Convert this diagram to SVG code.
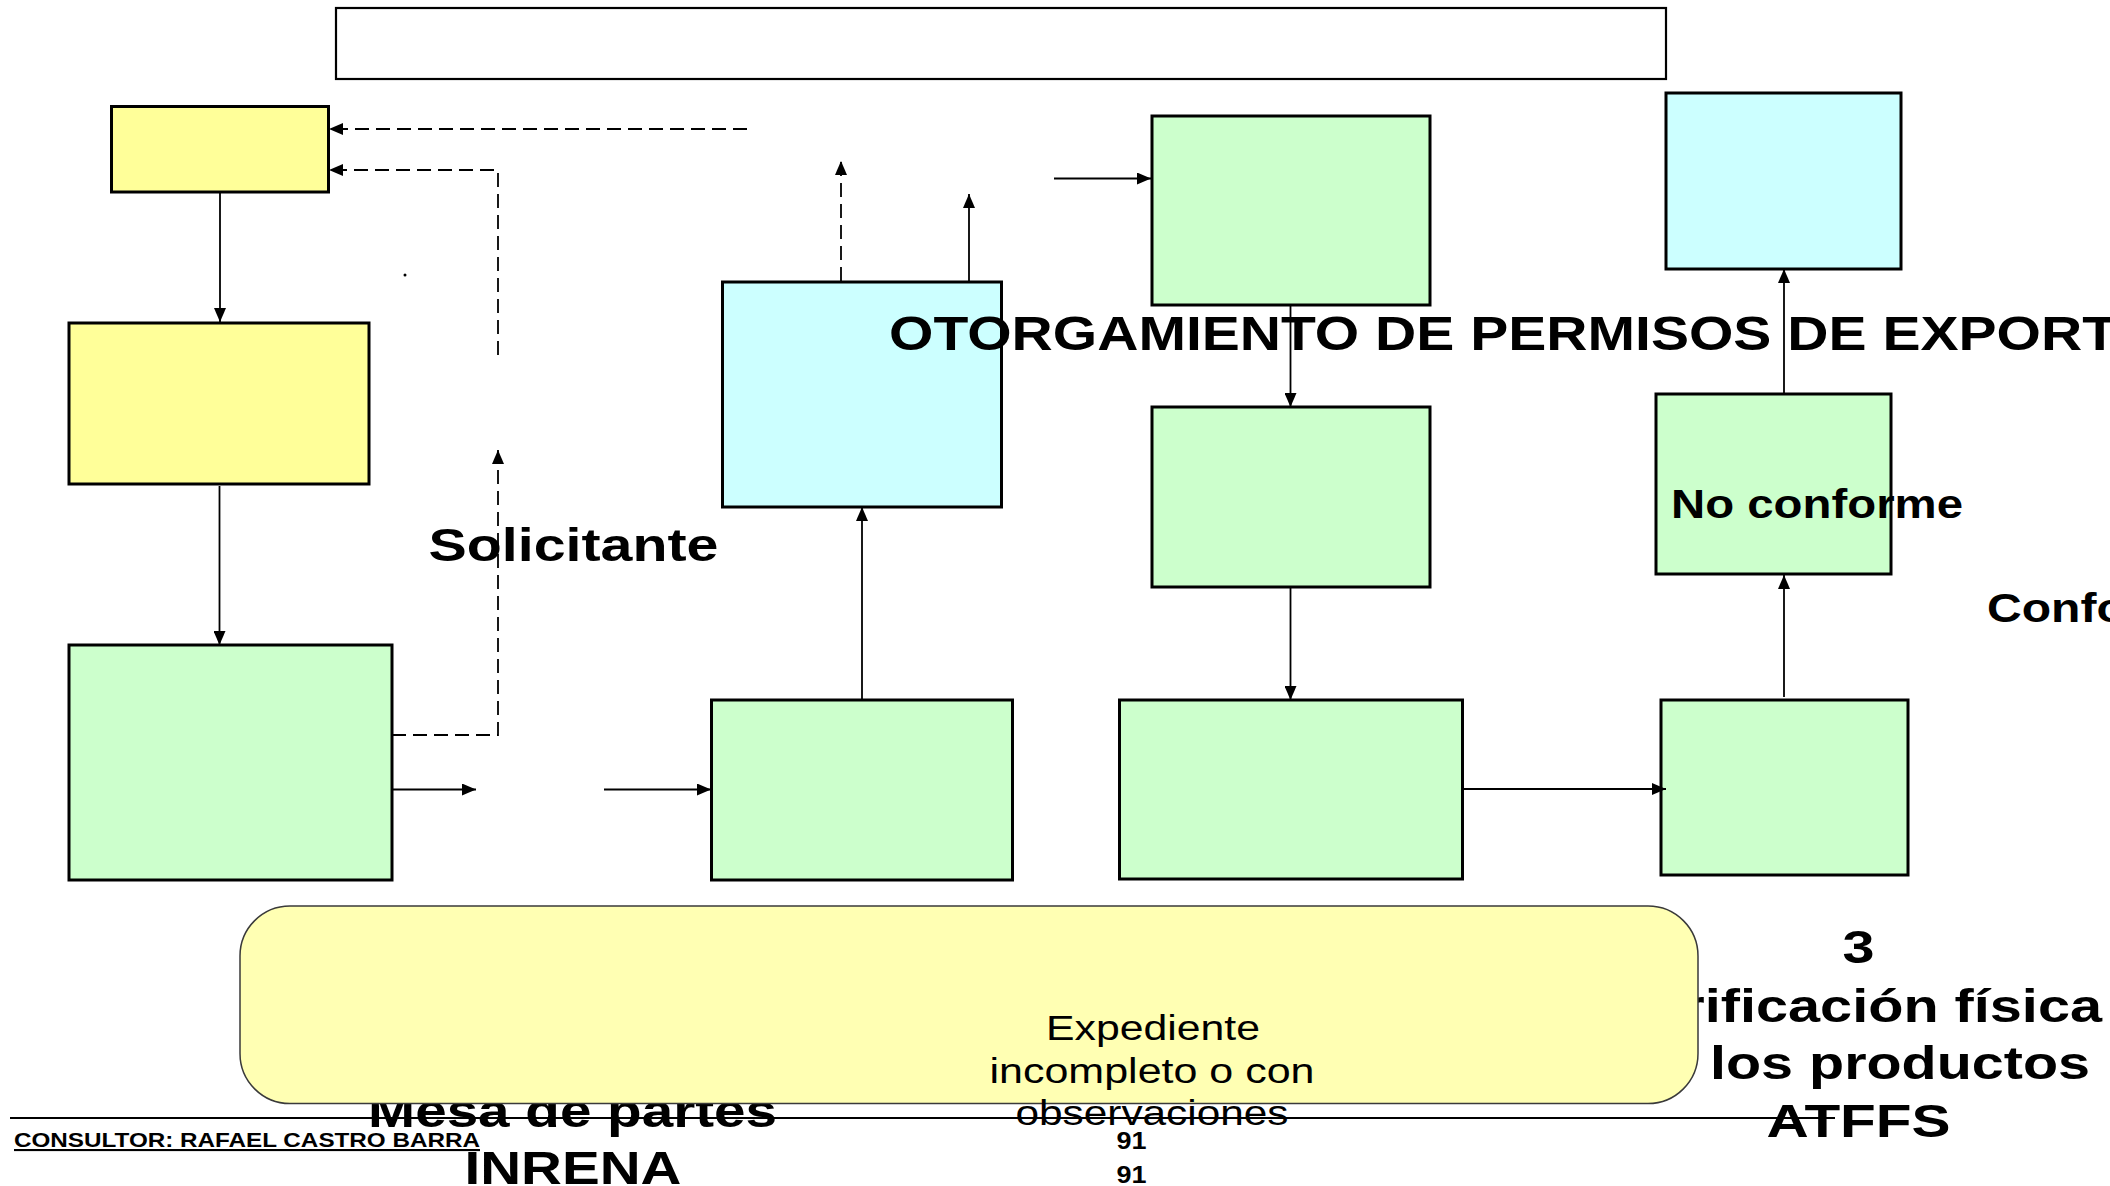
<svg xmlns="http://www.w3.org/2000/svg" width="2110" height="1186" viewBox="0 0 2110 1186">
<defs>
<style>
.box{stroke:#000;stroke-width:3}
.w{fill:#FFFFFF;stroke-width:2.2}
.y{fill:#FFFF99}
.g{fill:#CCFFCC}
.c{fill:#CCFFFF}
.conn{fill:none;stroke:#000;stroke-width:1.8}
.dash{stroke-dasharray:14 7}
.t{font-family:"Liberation Sans",Arial,sans-serif;fill:#000}
.b{font-weight:bold}
.big{font-size:47px}
.mid{text-anchor:middle}
.reg{font-size:35px}
.sm{font-size:23px}
</style>
<marker id="ah" markerUnits="userSpaceOnUse" markerWidth="14" markerHeight="12" refX="14" refY="6" orient="auto">
<path d="M0,0 L14,6 L0,12 z" fill="#000"/>
</marker>
</defs>
<rect width="2110" height="1186" fill="#FFFFFF"/>

<g id="title-box"><rect class="box w" x="336" y="8" width="1330" height="71"/></g>

<g id="n1"><rect class="box y" x="111.5" y="106.5" width="217" height="85.5"/></g>
<g id="n2"><rect class="box y" x="69" y="323" width="300" height="161"/></g>
<g id="n3"><rect class="box g" x="69" y="645" width="323" height="235"/></g>
<g id="n4"><rect class="box g" x="711.5" y="700" width="301" height="180"/></g>
<g id="n5"><rect class="box c" x="722.5" y="282" width="279" height="225"/></g>
<g id="n6"><rect class="box g" x="1152" y="116" width="278" height="189"/></g>
<g id="n7"><rect class="box g" x="1152" y="407" width="278" height="180"/></g>
<g id="n8"><rect class="box g" x="1119.5" y="700" width="343" height="179"/></g>
<g id="n9"><rect class="box g" x="1661" y="700" width="247" height="175"/></g>
<g id="n10"><rect class="box g" x="1656" y="394" width="235" height="180"/></g>
<g id="n11"><rect class="box c" x="1666" y="93" width="235" height="176"/></g>

<g id="dot"><circle cx="405" cy="275" r="1.5" fill="#000"/></g>

<g id="labels">
<text class="t b" x="889" y="350" font-size="48" textLength="1228" lengthAdjust="spacingAndGlyphs">OTORGAMIENTO DE PERMISOS DE EXPORT</text>
<text class="t b big" x="428.5" y="561" textLength="290" lengthAdjust="spacingAndGlyphs">Solicitante</text>
<text class="t b" x="1671" y="518" font-size="40" textLength="292" lengthAdjust="spacingAndGlyphs">No conforme</text>
<text class="t b" x="1987" y="622" font-size="40" textLength="227" lengthAdjust="spacingAndGlyphs">Conforme</text>
<text class="t b big mid" x="1858.5" y="963" textLength="32" lengthAdjust="spacingAndGlyphs">3</text>
<text class="t b big mid" x="1858.5" y="1022" textLength="487" lengthAdjust="spacingAndGlyphs">Verificación física</text>
<text class="t b big mid" x="1858.5" y="1079" textLength="463" lengthAdjust="spacingAndGlyphs">de los productos</text>
<text class="t b big mid" x="1858.5" y="1137" textLength="184" lengthAdjust="spacingAndGlyphs">ATFFS</text>
<text class="t b big mid" x="572.5" y="1127" textLength="409" lengthAdjust="spacingAndGlyphs">Mesa de partes</text>
<text class="t b big mid" x="573" y="1184" textLength="217" lengthAdjust="spacingAndGlyphs">INRENA</text>
</g>

<g id="note">
<rect x="240" y="906" width="1458" height="197.5" rx="50" ry="50" fill="#FFFFB3" stroke="#3A3A3A" stroke-width="1.5"/>
<text class="t reg mid" x="1153" y="1040" textLength="214" lengthAdjust="spacingAndGlyphs">Expediente</text>
<text class="t reg mid" x="1152" y="1082.5" textLength="325" lengthAdjust="spacingAndGlyphs">incompleto o con</text>
<text class="t reg mid" x="1152" y="1125" textLength="273" lengthAdjust="spacingAndGlyphs">observaciones</text>
</g>

<g id="connectors">
<path class="conn dash" d="M747,129 H329" marker-end="url(#ah)"/>
<path class="conn dash" d="M498,355 V170 H329" marker-end="url(#ah)"/>
<path class="conn dash" d="M392,735 H498 V450" marker-end="url(#ah)"/>
<path class="conn" d="M220,193 V322" marker-end="url(#ah)"/>
<path class="conn" d="M219.5,486 V645" marker-end="url(#ah)"/>
<path class="conn" d="M392,789.5 H476" marker-end="url(#ah)"/>
<path class="conn" d="M604,789.5 H711" marker-end="url(#ah)"/>
<path class="conn" d="M862,699 V507" marker-end="url(#ah)"/>
<path class="conn dash" d="M841,281 V161" marker-end="url(#ah)"/>
<path class="conn" d="M969,281 V194" marker-end="url(#ah)"/>
<path class="conn" d="M1054,178.5 H1151" marker-end="url(#ah)"/>
<path class="conn" d="M1290.5,306 V407" marker-end="url(#ah)"/>
<path class="conn" d="M1290.5,588 V700" marker-end="url(#ah)"/>
<path class="conn" d="M1463,789 H1666" marker-end="url(#ah)"/>
<path class="conn" d="M1784,697 V575" marker-end="url(#ah)"/>
<path class="conn" d="M1784,393 V269" marker-end="url(#ah)"/>
</g>

<g id="footer">
<line x1="10" y1="1118" x2="1835" y2="1118" stroke="#000" stroke-width="2"/>
<text class="t b" x="14" y="1147" font-size="21" textLength="466" lengthAdjust="spacingAndGlyphs" text-decoration="underline">CONSULTOR: RAFAEL CASTRO BARRA</text>
<text class="t b sm mid" x="1131.5" y="1149" textLength="30" lengthAdjust="spacingAndGlyphs">91</text>
<text class="t b sm mid" x="1131.5" y="1183" textLength="30" lengthAdjust="spacingAndGlyphs">91</text>
</g>
</svg>
